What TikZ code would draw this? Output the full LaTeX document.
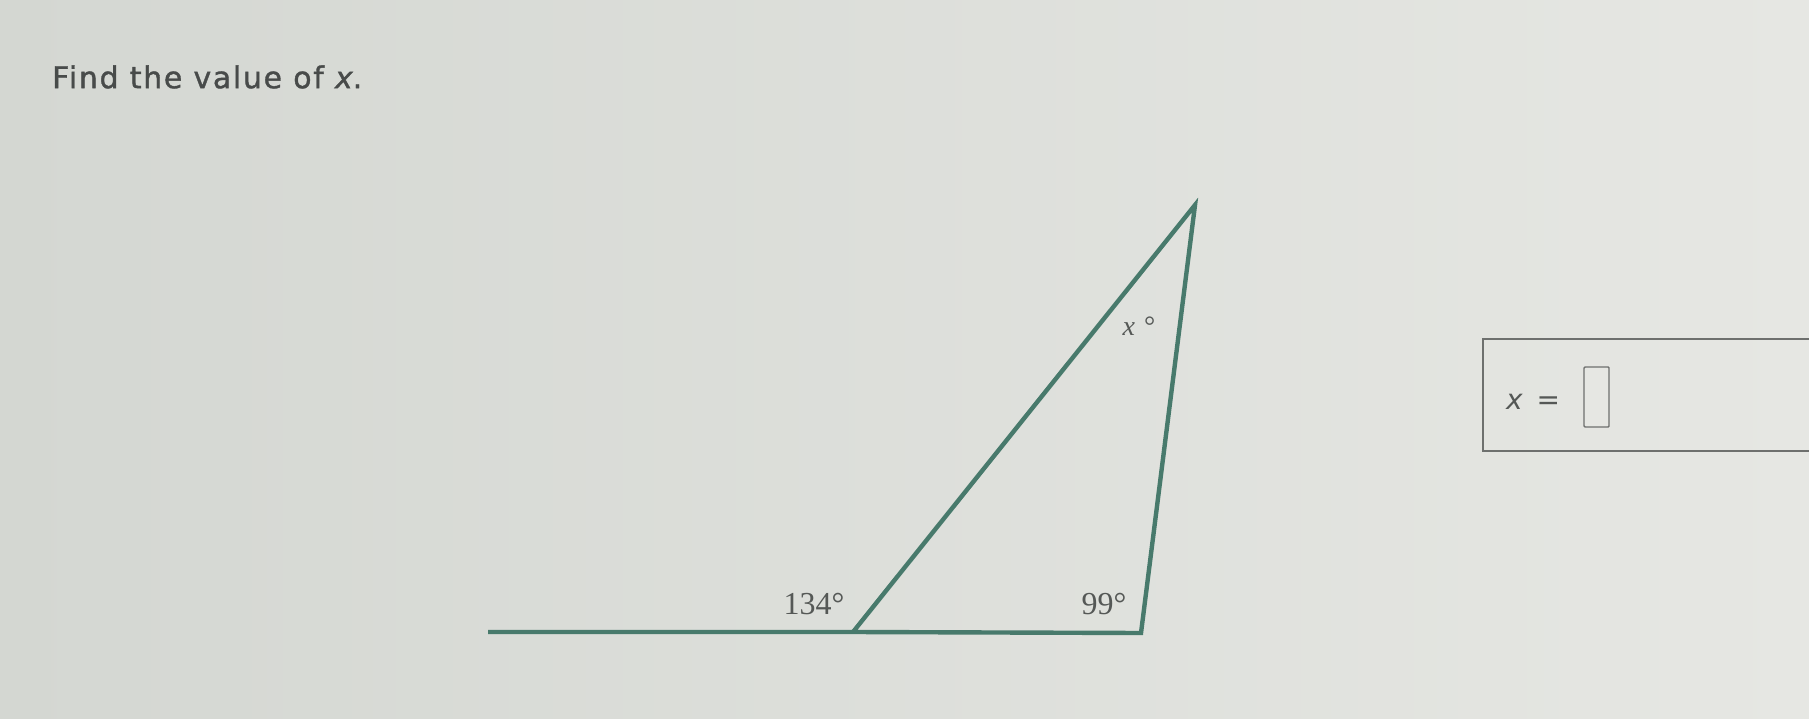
\documentclass[tikz,border=0pt]{standalone}
\usepackage{fontspec}
\setmainfont{Liberation Serif}
\newfontfamily\verd{DejaVu Sans}
\newfontfamily\verdwide[LetterSpace=5.5,FakeBold=1.2]{DejaVu Sans}
\definecolor{bg}{RGB}{212,215,210}
\definecolor{bgl}{RGB}{230,231,227}
\definecolor{tri}{RGB}{72,122,108}
\definecolor{txt}{RGB}{85,88,86}
\definecolor{ttl}{RGB}{72,75,74}
\definecolor{boxc}{RGB}{110,112,110}
\tikzset{
  seg/.style={draw=tri, line width=4.4pt, line join=miter},
  lbl/.style={text=txt, inner sep=0pt, font=\fontsize{32}{32}\selectfont},
  sanslbl/.style={text=txt, inner sep=0pt, font=\verd\fontsize{28}{28}\selectfont},
}
\begin{document}
\begin{tikzpicture}[x=1pt,y=-1pt]
\useasboundingbox (0,0) rectangle (1809,719);
\shade[left color=bg, right color=bgl] (0,0) rectangle (1809,719);
% title
\node[sanslbl, text=ttl, anchor=west, font=\verdwide\fontsize{30}{30}\selectfont] (title) at (52,77) {Find the value of \textit{x}.};
% triangle
\coordinate (L) at (488,632);
\coordinate (A) at (853,632);
\coordinate (B) at (1141,633);
\coordinate (C) at (1195,205);
\draw[seg] (L) -- (A) -- (C) -- (B) -- (A);
% labels
\node[lbl] (a134) at (814,604) {134°};
\node[lbl] (a99) at (1104,604) {99°};
\node[lbl, font=\fontsize{28}{28}\selectfont] (ax) at (1139,326) {\textit{x}\hspace{9pt}°};
% answer box
\draw[boxc, line width=1.6pt] (1820,339) -- (1483,339) -- (1483,451) -- (1820,451);
\node[sanslbl, anchor=west] (xeq) at (1506,402) {\textit{x}\, =};
\draw[boxc, line width=1.4pt, fill=bgl, rounded corners=1pt] (1584,367) rectangle (1609,427);
\end{tikzpicture}
\end{document}
